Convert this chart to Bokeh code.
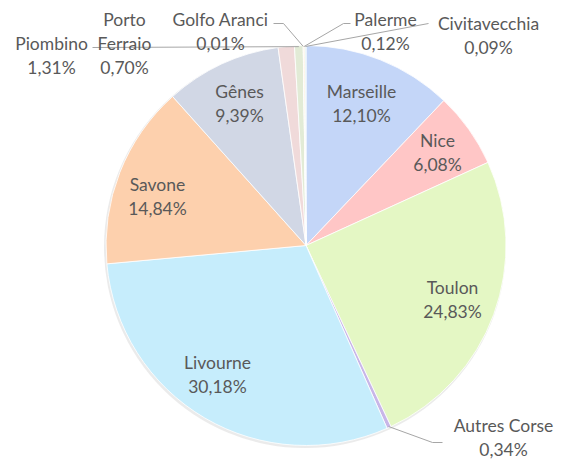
import math
from bokeh.plotting import figure
from bokeh.models import Range1d, ColumnDataSource
from bokeh.core.properties import value
from bokeh.embed import file_html
from bokeh.resources import INLINE

# ---- data ----
ports = ["Marseille", "Nice", "Toulon", "Autres Corse", "Livourne", "Savone",
         "Gênes", "Piombino", "Porto Ferraio", "Golfo Aranci", "Palerme", "Civitavecchia"]
shares = [12.10, 6.08, 24.83, 0.34, 30.18, 14.84, 9.39, 1.31, 0.70, 0.01, 0.12, 0.09]
colors = ["#c4d6f8", "#ffc6c6", "#e4f7c4", "#c8b6e8", "#c6edfc", "#fdd0ad",
          "#d1d7e5", "#f0dada", "#e2ebd6", "#dce7f3", "#fde3bd", "#d3eef0"]

# label layout (pixels: centre of first text line) and line breaks
label_lines = {
    "Porto Ferraio": ["Porto", "Ferraio"],
}
label_pos = {
    "Marseille": (361, 91), "Nice": (437, 140), "Toulon": (452, 287),
    "Autres Corse": (503, 425), "Livourne": (217, 362), "Savone": (157, 184),
    "Gênes": (239, 91), "Piombino": (51, 43), "Porto Ferraio": (124, 19),
    "Golfo Aranci": (220, 19), "Palerme": (385, 19), "Civitavecchia": (488, 23),
}
# leader line elbows (pixels), from label side towards slice
leaders = {
    "Autres Corse": [(442, 442), (432, 442)],
    "Porto Ferraio": [(92, 47)],
    "Golfo Aranci": [(273, 23), (283, 23)],
    "Palerme": [(350, 23), (343, 23)],
    "Civitavecchia": [(428, 23)],
}

W, H = 571, 459
CX, CY_PAGE, R = 305.5, 245, 200
LINE = 24


def py(y_page):
    return H - y_page


p = figure(width=W, height=H, output_backend="svg", toolbar_location=None,
           x_range=Range1d(0, W), y_range=Range1d(0, H),
           min_border=0)
p.axis.visible = False
p.grid.visible = False
p.outline_line_color = None
p.background_fill_color = "white"
p.border_fill_color = "white"

total = sum(shares)
starts, ends, mids = [], [], []
cum = 0.0
for s in shares:
    c0 = cum / total
    cum += s
    c1 = cum / total
    # bokeh angle: counter-clockwise from +x; slices run clockwise from 12 o'clock
    starts.append(math.pi / 2 - 2 * math.pi * c1)
    ends.append(math.pi / 2 - 2 * math.pi * c0)
    mids.append(math.pi / 2 - 2 * math.pi * (c0 + c1) / 2)

cy = py(CY_PAGE)
# soft shadow
p.circle(x=[CX - 1], y=[cy - 1.5], radius=201, fill_color="#e3e3e3", fill_alpha=0.7, line_color=None)

src = ColumnDataSource(dict(port=ports, share=shares, color=colors, start=starts, end=ends))
p.wedge(x=CX, y=cy, radius=R, start_angle="start", end_angle="end", direction="anticlock",
        fill_color="color", line_color="white", line_width=0.8, source=src)

# leader lines
for name, pts in leaders.items():
    i = ports.index(name)
    ex = CX + (R - 1) * math.cos(mids[i])
    ey = cy + (R - 1) * math.sin(mids[i])
    xs = [q[0] for q in pts] + [ex]
    ys = [py(q[1]) for q in pts] + [ey]
    p.line(xs, ys, line_color="#a6a6a6", line_width=1)

# labels
tx, ty, tt = [], [], []
for name, s in zip(ports, shares):
    lx, ly = label_pos[name]
    lines = label_lines.get(name, [name]) + [f"{s:.2f}".replace(".", ",") + "%"]
    for k, t in enumerate(lines):
        tx.append(lx)
        ty.append(py(ly + k * LINE))
        tt.append(t)

p.text(x=tx, y=ty, text=tt, text_align="center", text_baseline="middle",
       text_font=value("Lato"), text_font_size="17.5px", text_color="#595959")

open("out.html", "w").write(file_html(p, INLINE))
